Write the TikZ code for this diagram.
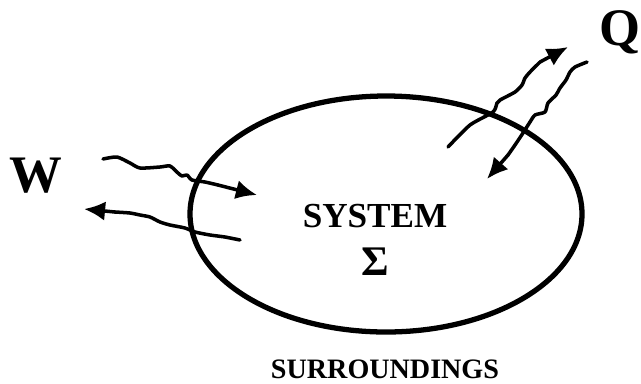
\documentclass[tikz,border=0pt]{standalone}
\usepackage{fontspec}
\setmainfont{Liberation Serif}
\usetikzlibrary{arrows.meta}

\begin{document}
\begin{tikzpicture}[x=0.02cm,y=-0.02cm]
\useasboundingbox (0,0) rectangle (641,383);
\tikzset{
  wavy/.style={line width=2pt,line join=round,line cap=round},
  head/.style={wavy,-{Latex[length=12pt,width=11pt]}},
  lbl/.style={font=\bfseries,inner sep=0pt}
}
% ---------- the system and its boundary ----------
\draw[line width=3pt] (386,214) ellipse [x radius=196,y radius=118];
\node[lbl,font=\fontsize{20}{24}\selectfont\bfseries] (sys) at (375,216) {SYSTEM};
\node[lbl,font=\fontsize{24}{28}\selectfont\bfseries] (sig) at (375,262) {Σ};
\node[lbl,font=\fontsize{16}{20}\selectfont\bfseries] (surr) at (385,369) {SURROUNDINGS};
% ---------- labels ----------
\node[lbl,font=\fontsize{30}{32}\selectfont\bfseries] (W) at (36,176) {W};
\node[lbl,font=\fontsize{30}{32}\selectfont\bfseries] (Q) at (620,32) {Q};
% ---------- work in and out ----------
\coordinate (Win) at (103,159);
\coordinate (Wmid) at (218,185);
\coordinate (Wtip) at (257,195);
\coordinate (Wback) at (240,240);
\coordinate (Wlast) at (115,212);
\coordinate (Wout) at (84,209);
\draw[wavy] plot[smooth,tension=0.4] coordinates {(Win) (117,157) (130,163) (140,168) (160,167) (170,166)
  (178,173) (182,176) (187,175) (192,180) (205,182) (Wmid)};
\draw[head] (Wmid) -- (Wtip);
\draw[wavy] plot[smooth,tension=0.4] coordinates {(Wback) (225,237) (210,235) (195,232) (185,228) (170,225)
  (160,222) (150,217) (140,215) (130,213) (Wlast)};
\draw[head] (Wlast) -- (Wout);
% ---------- heat out and in ----------
\coordinate (Qin) at (448,147);
\coordinate (Qmid) at (540,62);
\coordinate (Qtip) at (568,47);
\coordinate (Qback) at (587,62);
\coordinate (Qlast) at (508,155);
\coordinate (Qout) at (487,179);
\draw[wavy] plot[smooth,tension=0.4] coordinates {(Qin) (470,125) (493,112) (497,103) (500,100) (515,92)
  (522,85) (525,78) (530,72) (Qmid)};
\draw[head] (Qmid) -- (Qtip);
\draw[wavy] plot[smooth,tension=0.4] coordinates {(Qback) (575,67) (570,72) (566,80) (560,88) (556,95)
  (548,103) (545,112) (535,115) (530,122) (523,133) (515,145) (Qlast)};
\draw[head] (Qlast) -- (Qout);
\end{tikzpicture}
\end{document}
